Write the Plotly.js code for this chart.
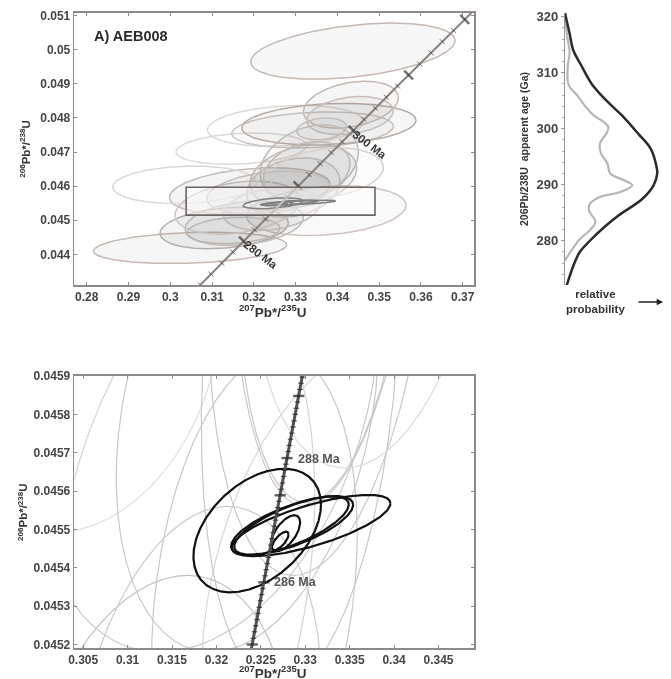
<!DOCTYPE html>
<html><head><meta charset="utf-8">
<script src="https://cdn.plot.ly/plotly-3.0.1.min.js"></script>
<style>html,body{margin:0;padding:0;background:#fff}#c{width:671px;height:679px;filter:blur(0.55px)}</style>
</head><body><div id="c"></div>
<script>
// Grey error ellipses (207Pb/235U centre & half-width, 206Pb/238U centre & half-height, correlation)
const ellCx  = [.3437,.30473,.33737,.31291,.3177,.31611,.31902,.30346,.31702,.32756,.33406,.33797,.34323,.34303,.33625,.33326,.33186,.32947,.33266,.33745,.32348,.32428,.31511];
const ellSx  = [.02446,.02314,.01907,.01536,.01416,.01496,.01923,.01723,.01564,.01867,.01935,.02086,.01137,.01037,.00598,.01177,.01277,.01117,.01037,.01356,.01476,.01157,.01117];
const ellCy  = [.04996,.04419,.04528,.04477,.04491,.04537,.04586,.04604,.0471,.04777,.04765,.04782,.04839,.04807,.04768,.04668,.0463,.04596,.04644,.04639,.04581,.04533,.0447];
const ellSy  = [.000824,.00046,.00073,.00061,.00065,.00078,.00068,.00055,.00046,.0006,.00053,.00061,.00069,.00056,.00032,.00112,.00092,.00087,.00087,.00073,.00063,.00063,.00039];
const ellRho = [.38,.2,.22,.25,.25,.28,.28,.12,.2,.2,.2,.18,.3,.25,.2,.28,.25,.22,.25,.22,.28,.25,.18];
const ellFill= [.05,.06,.04,.07,.055,.05,.065,0,0,0,.03,.055,.06,.05,.04,.055,.055,.055,.05,.025,.045,.045,.045];
const ellEdge= ['#c6b9b3','#c6b9b3','#cfc4be','#b5aeaa','#c2bcb8','#cbc6c2','#c2bcb8','#dcd8d5','#dedad7','#dedad7','#ccc6c2','#b8aba5','#c4b8b2','#c5bfbb','#c5bfbb','#c0bbb7','#c0bbb7','#c0bbb7','#c0bbb7','#d5d0cc','#c0bbb7','#c0bbb7','#bab5b1'];
const ellEdgeLow = ['#d6cfca','#d0c9c4','#dcd6d2','#c6c0bc','#cfcac6','#d6d2cf','#cfcac6','#e2dfdc','#e4e1de','#e4e1de','#d6d1cd','#c8bdb7','#d0c6c0','#d0cbc7','#d0cbc7','#ccc7c3','#ccc7c3','#ccc7c3','#ccc7c3','#dedad6','#ccc7c3','#ccc7c3','#c6c1bd'];
// Black ellipses of the youngest concordant grains
const blkCx  = [.32459,.32852,.33066,.32845,.32778,.32718];
const blkSx  = [.00718,.00687,.00893,.00645,.00165,.00094];
const blkCy  = [.045497,.04551,.04551,.04551,.04549,.04547];
const blkSy  = [.000161,.000077,.00008,.000076,.000047,.000024];
const blkRho = [.42,.7,.72,.72,.6,.7];
// Concordia, upper panel
const concAge = [272,274,276,278,280,282,284,286,288,290,292,294,296,298,300,302,304,306,308,310,312,314,316,318,320,322];
const concX = [.30718,.30976,.31234,.31493,.31753,.32013,.32273,.32534,.32795,.33057,.33319,.33582,.33846,.3411,.34375,.34639,.34905,.35171,.35438,.35705,.35973,.36241,.3651,.36779,.37049,.3732];
const concY = [.0431,.04342,.04374,.04407,.04439,.04472,.04504,.04536,.04569,.04601,.04634,.04666,.04699,.04731,.04764,.04796,.04829,.04861,.04894,.04926,.04959,.04991,.05024,.05057,.05089,.05122];
const concMajor = [280,290,300,310,320];
// Concordia, lower panel
const zoomAge = [284.8,284.9,285,285.1,285.2,285.3,285.4,285.5,285.6,285.7,285.8,285.9,286,286.1,286.2,286.3,286.4,286.5,286.6,286.7,286.8,286.9,287,287.1,287.2,287.3,287.4,287.5,287.6,287.7,287.8,287.9,288,288.1,288.2,288.3,288.4,288.5,288.6,288.7,288.8,288.9,289,289.1,289.2,289.3,289.4];
const zoomX = [.32377,.3239,.32403,.32416,.32429,.32442,.32456,.32469,.32482,.32495,.32508,.32521,.32534,.32547,.3256,.32573,.32586,.32599,.32612,.32625,.32639,.32652,.32665,.32678,.32691,.32704,.32717,.3273,.32743,.32756,.32769,.32782,.32795,.32808,.32821,.32835,.32848,.32861,.32874,.32887,.329,.32913,.32926,.32939,.32952,.32965,.32978];
const zoomY = [.045168,.045184,.0452,.045216,.045233,.045249,.045265,.045281,.045297,.045314,.04533,.045346,.045362,.045379,.045395,.045411,.045427,.045443,.045459,.045476,.045492,.045508,.045524,.045541,.045557,.045573,.045589,.045605,.045621,.045638,.045654,.04567,.045686,.045703,.045719,.045735,.045751,.045767,.045783,.0458,.045816,.045832,.045848,.045865,.045881,.045897,.045913];
const zoomMajor = [285,286,287.4,288,289];
// Relative probability curves
const sumAge  = [320.6,317,314,311.2,308,305,302,299,296.4,293,292,289.9,287.5,284.5,282.5,280,278,275.5,272.1];
const sumProb = [0,5,9,18,29,45,64,80,93,99.5,100,96,84,58,43,27,16,9,2];
const obsAge  = [320.6,317,313.5,311.2,307.8,306,304,302.4,301.2,300.3,299.2,297.4,295.6,293.8,292,290.8,289.9,288.7,287.8,286.6,285.4,283.4,281.9,280.1,278.3,276.5];
const obsProb = [0,2,5,3,4,13,22,31,42,47,45,38,39,46,49,64,73,60,38,27,26,33,27,15,7,0];
// Tick labels
const xTopTicks = [.28,.29,.3,.31,.32,.33,.34,.35,.36,.37];
const xTopText  = ['0.28','0.29','0.3','0.31','0.32','0.33','0.34','0.35','0.36','0.37'];
const yTopTicks = [.044,.045,.046,.047,.048,.049,.05,.051];
const yTopText  = ['0.044','0.045','0.046','0.047','0.048','0.049','0.05','0.051'];
const xBotTicks = [.305,.31,.315,.32,.325,.33,.335,.34,.345];
const xBotText  = ['0.305','0.31','0.315','0.32','0.325','0.33','0.335','0.34','0.345'];
const yBotTicks = [.0452,.0453,.0454,.0455,.0456,.0457,.0458,.0459];
const yBotText  = ['0.0452','0.0453','0.0454','0.0455','0.0456','0.0457','0.0458','0.0459'];
const ageTicks  = [280,290,300,310,320];
const boxX = [.3038,.349], boxY = [.04515,.04597];

const W=671,H=679;
const FAM='"Liberation Sans",Arial,sans-serif';
function ellipse(cx,sx,cy,sy,r){
  const xs=[],ys=[],n=720,q=Math.sqrt(1-r*r);
  for(let i=0;i<=n;i++){const t=2*Math.PI*i/n;
    xs.push(cx+sx*Math.cos(t)); ys.push(cy+sy*(r*Math.cos(t)+q*Math.sin(t)));}
  return {x:xs,y:ys};
}
const traces=[];
ellCx.forEach((c,i)=>{
  const e=ellipse(c,ellSx[i],ellCy[i],ellSy[i],ellRho[i]);
  traces.push({x:e.x,y:e.y,xaxis:'x',yaxis:'y',mode:'lines',hoverinfo:'skip',showlegend:false,
    fill:ellFill[i]>0?'toself':'none',fillcolor:`rgba(95,95,95,${ellFill[i]})`,
    line:{color:ellEdge[i],width:1.5}});
  traces.push({x:e.x,y:e.y,xaxis:'x2',yaxis:'y2',mode:'lines',hoverinfo:'skip',showlegend:false,
    line:{color:ellEdgeLow[i],width:1.2}});
});
blkCx.forEach((c,i)=>{
  const e=ellipse(c,blkSx[i],blkCy[i],blkSy[i],blkRho[i]);
  traces.push({x:e.x,y:e.y,xaxis:'x',yaxis:'y',mode:'lines',hoverinfo:'skip',showlegend:false,line:{color:'#000',width:1.5}});
  traces.push({x:e.x,y:e.y,xaxis:'x2',yaxis:'y2',mode:'lines',hoverinfo:'skip',showlegend:false,line:{color:'#111',width:2.2}});
});
// concordia upper
traces.push({x:concX,y:concY,xaxis:'x',yaxis:'y',mode:'lines+markers',hoverinfo:'skip',showlegend:false,
  line:{color:'#8a827e',width:2},
  marker:{symbol:'line-ew',angle:45,size:concAge.map(a=>concMajor.includes(a)?9:5),line:{color:'#333',width:concAge.map(a=>concMajor.includes(a)?2.4:1)}}});
// concordia lower
traces.push({x:zoomX,y:zoomY,xaxis:'x2',yaxis:'y2',mode:'lines+markers',hoverinfo:'skip',showlegend:false,
  line:{color:'#55504e',width:3},
  marker:{symbol:'line-ew',size:zoomAge.map(a=>zoomMajor.includes(a)?8:4),line:{color:'#222',width:zoomAge.map(a=>zoomMajor.includes(a)?2.4:1.2)}}});
// probability
traces.push({x:obsProb,y:obsAge,xaxis:'x3',yaxis:'y3',mode:'lines',hoverinfo:'skip',showlegend:false,line:{color:'#bbb5b2',width:2.2,shape:'spline'}});
traces.push({x:sumProb,y:sumAge,xaxis:'x3',yaxis:'y3',mode:'lines',hoverinfo:'skip',showlegend:false,line:{color:'#2b2b2b',width:2.5,shape:'spline'}});

const tf={family:FAM,size:12,color:'#444',weight:'bold'};
const frame={showline:true,mirror:'allticks',linecolor:'#8f8a87',linewidth:1.6,ticks:'inside',ticklen:3,tickcolor:'#8f8a87',tickwidth:1,showgrid:false,zeroline:false,automargin:false,tickmode:'array'};
const titleF={family:FAM,size:13,color:'#333',weight:'bold'};
const xT='<b><sup>207</sup>Pb*/<sup>235</sup>U</b>', yT='<sup>206</sup>Pb*/<sup>238</sup>U';
const dom=(a,b)=>[1-b/H,1-a/H];
const layout={
  width:W,height:H,margin:{l:0,r:0,t:0,b:0},paper_bgcolor:'#fff',plot_bgcolor:'#fff',showlegend:false,
  xaxis:{...frame,domain:[74.3/W,474/W],range:[.27703,.3727],tickvals:xTopTicks,ticktext:xTopText,tickfont:tf,anchor:'y'},
  yaxis:{...frame,domain:dom(13,285),range:[.0431,.05108],tickvals:yTopTicks,ticktext:yTopText,tickfont:tf,anchor:'x',
    title:{text:yT,font:{...titleF,size:11.5},standoff:7}},
  xaxis2:{...frame,domain:[74.3/W,474/W],range:[.304,.349],tickvals:xBotTicks,ticktext:xBotText,tickfont:tf,anchor:'y2'},
  yaxis2:{...frame,domain:dom(376,648.3),range:[.04519,.0459],tickvals:yBotTicks,ticktext:yBotText,tickfont:tf,anchor:'x2',
    title:{text:yT,font:{...titleF,size:11.5},standoff:3}},
  xaxis3:{domain:[565/W,660/W],range:[0,103],showline:false,showticklabels:false,ticks:'',showgrid:false,zeroline:false,anchor:'y3'},
  yaxis3:{domain:dom(13,285),range:[272.1,320.66],showline:true,linecolor:'#9a9593',linewidth:1.2,ticks:'outside',ticklen:3,tickcolor:'#9a9593',
    tickmode:'array',tickvals:ageTicks,ticktext:ageTicks.map(String),tickfont:{family:FAM,size:13,color:'#444',weight:'bold'},
    minor:{dtick:2,ticks:'outside',ticklen:2,tickcolor:'#aaa'},showgrid:false,zeroline:false,anchor:'x3',
    title:{text:'206Pb/238U  apparent age (Ga)',font:{family:FAM,size:10.5,color:'#333',weight:'bold'},standoff:5}},
  shapes:[{type:'rect',xref:'x',yref:'y',x0:boxX[0],x1:boxX[1],y0:boxY[0],y1:boxY[1],fillcolor:'rgba(255,255,255,0.5)',line:{color:'#6a6563',width:1.6}}],
  annotations:[
    {xref:'paper',yref:'paper',x:273/W,y:1-322/H,xanchor:'center',yanchor:'bottom',showarrow:false,text:xT,font:{family:FAM,size:13.5,color:'#333'}},
    {xref:'paper',yref:'paper',x:273/W,y:1-683/H,xanchor:'center',yanchor:'bottom',showarrow:false,text:xT,font:{family:FAM,size:13.5,color:'#333'}},
    {xref:'paper',yref:'paper',x:92/W,y:1-36/H,xanchor:'left',yanchor:'middle',showarrow:false,text:'<b>A) AEB008</b>',font:{family:FAM,size:14.5,color:'#2a2a2a'}},
    {xref:'x',yref:'y',x:.3478,y:.0472,showarrow:false,textangle:37,text:'<b>300 Ma</b>',font:{family:FAM,size:11.5,color:'#333'}},
    {xref:'x',yref:'y',x:.3217,y:.04397,showarrow:false,textangle:37,text:'<b>280 Ma</b>',font:{family:FAM,size:11.5,color:'#333'}},
    {xref:'x2',yref:'y2',x:.33162,y:.045684,showarrow:false,text:'<b>288 Ma</b>',font:{family:FAM,size:12.5,color:'#555'}},
    {xref:'x2',yref:'y2',x:.32895,y:.045362,showarrow:false,text:'<b>286 Ma</b>',font:{family:FAM,size:12.5,color:'#555'}},
    {xref:'paper',yref:'paper',x:595/W,y:1-301/H,xanchor:'center',yanchor:'middle',showarrow:false,align:'center',text:'<b>relative<br>probability</b>',font:{family:FAM,size:11.5,color:'#333'}},
    {xref:'paper',yref:'paper',axref:'paper',ayref:'paper',x:663/W,y:1-302/H,ax:637/W,ay:1-302/H,showarrow:true,arrowhead:2,arrowsize:.9,arrowwidth:1.4,arrowcolor:'#222',text:''}
  ]
};
Plotly.newPlot('c',traces,layout,{displayModeBar:false,staticPlot:true});
</script></body></html>
